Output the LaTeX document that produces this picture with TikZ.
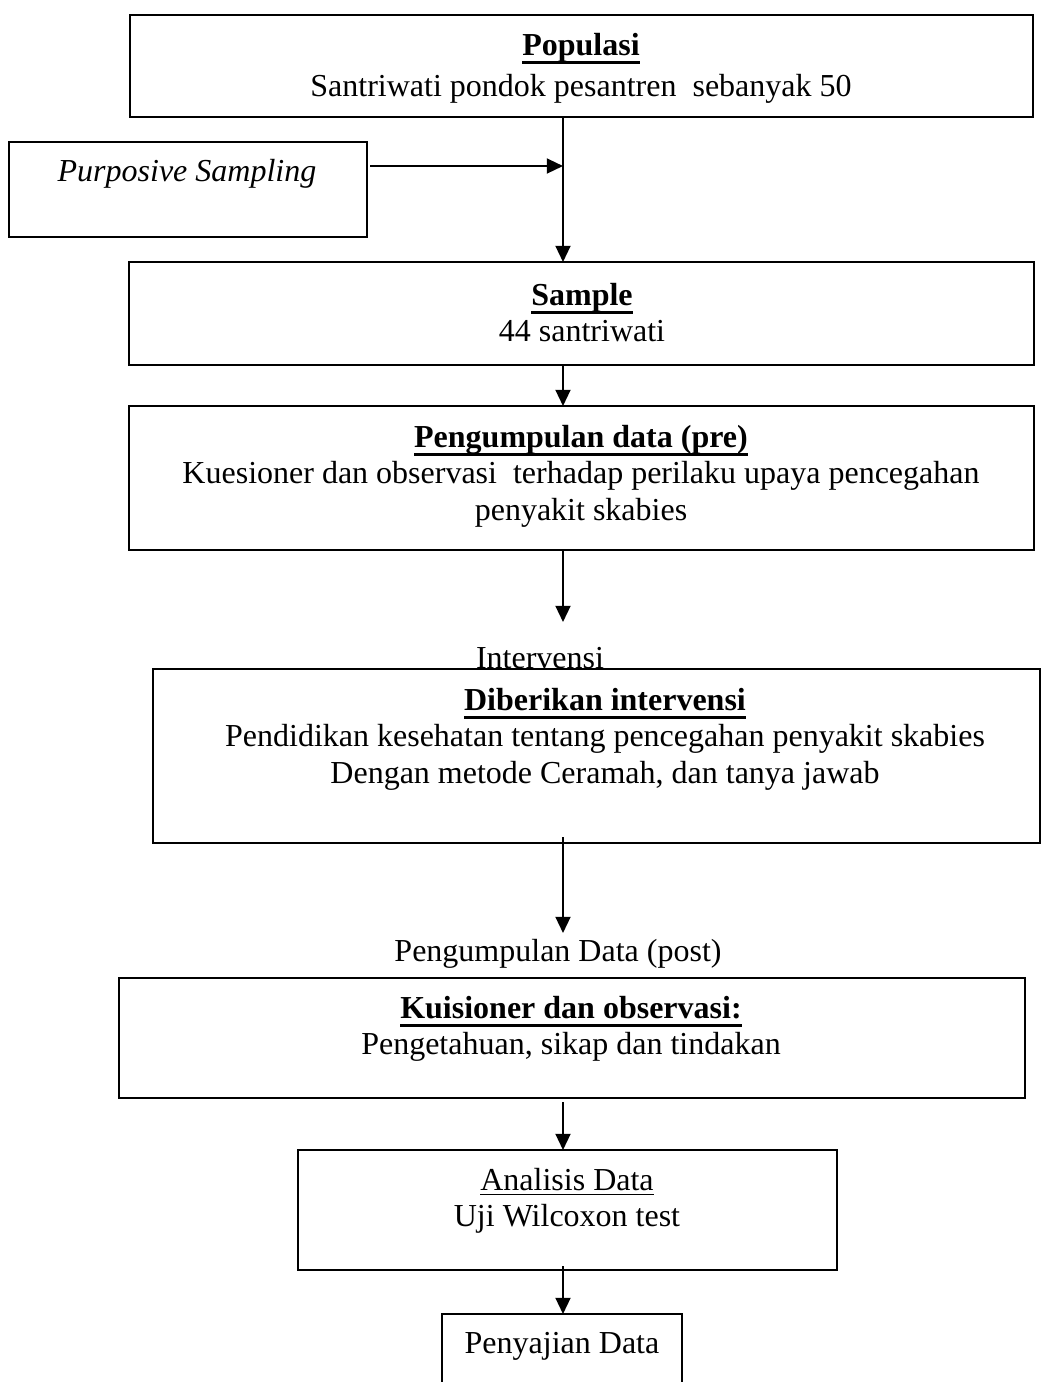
\documentclass[tikz,border=0pt]{standalone}
\usepackage{fontspec}
\setmainfont{Liberation Serif}
\usetikzlibrary{arrows.meta,positioning}
\newcommand{\ulbf}[1]{\textbf{\setbox0\hbox{#1}\rlap{\rule[-3.4pt]{\wd0}{1.1pt}}\box0}}
\tikzset{%
bigbox/.style={rectangle, draw, line width=0.9pt, inner sep=0pt, outer sep=0pt},
thinbox/.style={rectangle, draw, line width=0.5pt, inner sep=0pt, outer sep=0pt},
sz/.style 2 args={minimum width=#1*0.4pt, minimum height=#2*0.4pt},
txt/.style={align=center, inner sep=0pt, font=\fontsize{12.8}{14.6}\selectfont},
arw/.style={line width=0.8pt, -{Triangle[length=6.5pt,width=6pt]}}
}

\begin{document}
\begin{tikzpicture}[x=0.4pt, y=-0.4pt]
		\useasboundingbox (0,0) rectangle (1041,1382);
		\clip (0,0) rectangle (1041,1382);

		\node[bigbox, sz={903}{102}] (pop) at (581.5,66) {};
		\node[txt] (popt) at (581,68.5) {\ulbf{Populasi}\\[1.8pt] Santriwati pondok pesantren~ sebanyak 50};
		\node[thinbox, sz={358}{95}] (purp) at (188,189.5) {};
		\node[txt] (purpt) at (187,174) {\textit{Purposive Sampling}};
		\node[bigbox, sz={905}{103}] (sam) at (581.5,313.5) {};
		\node[txt] (samt) at (582,312.5) {\ulbf{Sample}\\ 44 santriwati};
		\node[bigbox, sz={905}{144}] (pre) at (581.5,478) {};
		\node[txt] (pret) at (581,476) {\ulbf{Pengumpulan data (pre)}\\ Kuesioner dan observasi~ terhadap perilaku upaya pencegahan\\ penyakit skabies};
		\node[txt] (intv) at (540,658) {Intervensi};
		\node[bigbox, sz={887}{174}] (dib) at (596.5,756) {};
		\node[txt] (dibt) at (605,739) {\ulbf{Diberikan intervensi}\\ Pendidikan kesehatan tentang pencegahan penyakit skabies\\ Dengan metode Ceramah, dan tanya jawab};
		\node[txt] (post) at (558,954) {Pengumpulan Data (post)};
		\node[bigbox, sz={906}{120}] (kui) at (572,1038) {};
		\node[txt] (kuit) at (571,1029) {\ulbf{Kuisioner dan observasi:}\\ Pengetahuan, sikap dan tindakan};
		\node[thinbox, sz={539}{120}] (ana) at (567.5,1210) {};
		\node[txt] (anat) at (567,1201) {\underline{Analisis Data}\\ Uji Wilcoxon test};
		\node[thinbox, sz={240}{90}] (pen) at (562,1359) {};
		\node[txt] (pent) at (562,1346) {Penyajian Data};

		\coordinate (join) at (563,166);
		\coordinate (tipa) at (563,622);
		\coordinate (tipb) at (563,933);

		\draw[arw] (join |- pop.south) -- (join |- sam.north);
		\draw[arw] ([xshift=1.2pt]purp.north east |- join) -- (join);
		\draw[arw] (join |- sam.south) -- (join |- pre.north);
		\draw[arw] (join |- pre.south) -- (tipa);
		\draw[arw] ([yshift=2.4pt]join |- dib.south) -- (tipb);
		\draw[arw] ([yshift=-1.6pt]join |- kui.south) -- (join |- ana.north);
		\draw[arw] ([yshift=1.6pt]join |- ana.south) -- (join |- pen.north);
	\end{tikzpicture}
\end{document}
